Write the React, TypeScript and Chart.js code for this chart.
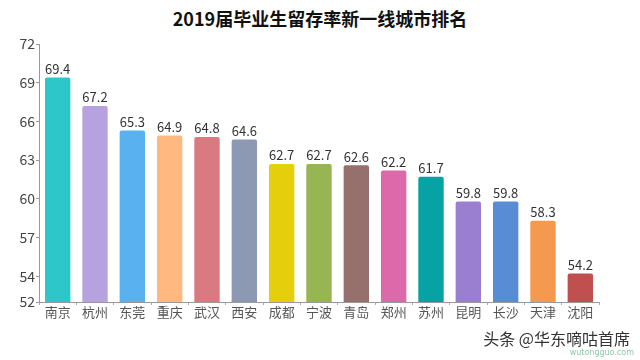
import React, { useEffect, useRef } from "react";
import { Chart, registerables } from "chart.js";

Chart.register(...registerables);

const TITLE = "2019届毕业生留存率新一线城市排名";
const cities = ["南京", "杭州", "东莞", "重庆", "武汉", "西安", "成都", "宁波", "青岛", "郑州", "苏州", "昆明", "长沙", "天津", "沈阳"];
const retention = [69.4, 67.2, 65.3, 64.9, 64.8, 64.6, 62.7, 62.7, 62.6, 62.2, 61.7, 59.8, 59.8, 58.3, 54.2];
const barColors = ["#2ec7c9", "#b6a2de", "#5ab1ef", "#ffb980", "#d87a80", "#8d98b3", "#e5cf0d", "#97b552", "#95706d", "#dc69aa", "#07a2a4", "#9a7fd1", "#588dd5", "#f5994e", "#c05050"];
const yTicks = [52, 54, 57, 60, 63, 66, 69, 72];

const FONT = "'Noto Sans CJK SC', 'Noto Sans', sans-serif";

const valueLabels = {
  id: "valueLabels",
  afterDatasetsDraw(chart: any) {
    const ctx = chart.ctx;
    const meta = chart.getDatasetMeta(0);
    ctx.save();
    ctx.font = `13px ${FONT}`;
    ctx.fillStyle = "#333";
    ctx.textAlign = "center";
    ctx.textBaseline = "bottom";
    meta.data.forEach((bar: any, i: number) => {
      ctx.fillText(String(retention[i].toFixed(1)), bar.x, bar.y - 2);
    });
    ctx.restore();
  },
};

export default function App() {
  const ref = useRef<HTMLCanvasElement>(null);
  useEffect(() => {
    if (!ref.current) return;
    const chart = new Chart(ref.current, {
      type: "bar",
      data: {
        labels: cities,
        datasets: [
          {
            data: retention,
            backgroundColor: barColors,
            borderRadius: 2,
            borderSkipped: "bottom",
            barPercentage: 0.68,
            categoryPercentage: 1,
          },
        ],
      },
      options: {
        responsive: false,
        animation: false,
        layout: { padding: { top: 44, right: 41, left: 0, bottom: 0 } },
        plugins: {
          legend: { display: false },
          title: { display: false },
          tooltip: { enabled: false },
        },
        scales: {
          x: {
            grid: { display: true, drawOnChartArea: false, drawTicks: true, tickLength: 3, color: "#aaa" },
            border: { display: true, color: "#999" },
            ticks: { color: "#555", font: { family: FONT, size: 13 }, padding: -1, maxRotation: 0, autoSkip: false },
            afterFit: (s: any) => {
              s.height = 58;
            },
          },
          y: {
            min: 52,
            max: 72,
            grid: { display: true, drawOnChartArea: false, drawTicks: true, tickLength: 3, color: "#999" },
            border: { display: true, color: "#999" },
            ticks: { color: "#444", font: { family: FONT, size: 14 }, padding: 1 },
            afterBuildTicks: (s: any) => {
              s.ticks = yTicks.map((v) => ({ value: v }));
            },
            afterFit: (s: any) => {
              s.width = 39;
            },
          },
        },
      },
      plugins: [valueLabels],
    });
    return () => chart.destroy();
  }, []);

  return (
    <div style={{ position: "fixed", left: 0, top: 0, width: 640, height: 360, background: "#fff", overflow: "hidden" }}>
      <div
        style={{
          position: "absolute",
          top: 5,
          left: 0,
          width: 640,
          textAlign: "center",
          fontFamily: FONT,
          fontWeight: 700,
          fontSize: 18,
          color: "#111",
          lineHeight: "26px",
        }}
      >
        {TITLE}
      </div>
      <canvas ref={ref} width={640} height={360} style={{ position: "absolute", left: 0, top: 0 }} />
      <div style={{ position: "absolute", right: 10, top: 328, fontFamily: FONT, fontSize: 16, color: "#333", lineHeight: "20px" }}>
        头条 @华东嘀咕首席
      </div>
      <div style={{ position: "absolute", right: 6, top: 348, fontFamily: "'DejaVu Sans', sans-serif", fontSize: 8, color: "#8cc9a8", lineHeight: "10px" }}>
        wutongguo.com
      </div>
    </div>
  );
}
